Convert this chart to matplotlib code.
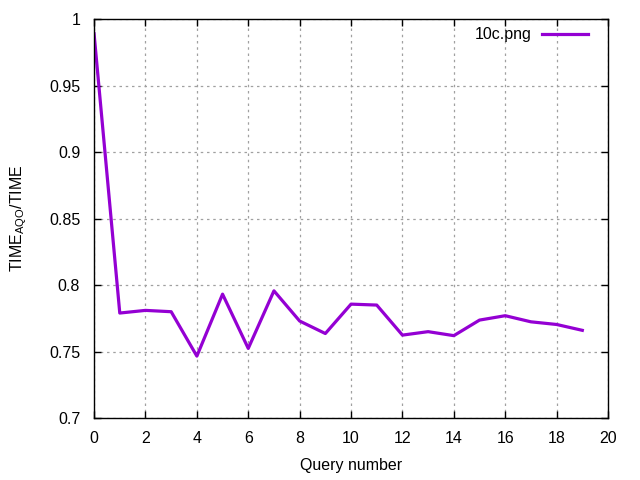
import matplotlib
matplotlib.use("Agg")
import matplotlib.pyplot as plt
from matplotlib.ticker import FuncFormatter

plt.rcParams['font.family'] = ['Liberation Sans', 'DejaVu Sans']
plt.rcParams['mathtext.default'] = 'regular'

# Data
query = list(range(20))
ratio = [0.989, 0.779, 0.781, 0.780, 0.7466, 0.7932, 0.7524, 0.7957, 0.773, 0.7636,
         0.7857, 0.785, 0.7624, 0.765, 0.762, 0.7737, 0.777, 0.7724, 0.7704, 0.766]
xticks = list(range(0, 21, 2))
yticks = [0.7, 0.75, 0.8, 0.85, 0.9, 0.95, 1.0]

fig = plt.figure(figsize=(6.4, 4.8), dpi=100)
ax = fig.add_axes([0.147, 0.129, 0.803, 0.831])

ax.plot(query, ratio, color='#9400d3', linewidth=2.3, label='10c.png')

ax.set_xlim(0, 20)
ax.set_ylim(0.7, 1.0)
ax.set_xticks(xticks)
ax.set_yticks(yticks)
ax.yaxis.set_major_formatter(FuncFormatter(lambda v, p: '%g' % v))

ax.grid(True, color='#a0a0a0', linestyle=(0, (2, 3)), linewidth=0.9)
ax.tick_params(direction='in', top=True, right=True, length=5, width=1,
               labelsize=11.5)
ax.tick_params(axis='x', pad=9)
ax.tick_params(axis='y', pad=10)
for s in ax.spines.values():
    s.set_linewidth(1)

ax.set_xlabel('Query number', fontsize=11.5, labelpad=9)
ax.set_ylabel('TIME$_{AQO}$/TIME', fontsize=11.5, labelpad=14)

ax.legend(loc='upper right', frameon=False, markerfirst=False, fontsize=11.5,
          handlelength=2.9, handletextpad=0.65, borderaxespad=0.1,
          bbox_to_anchor=(0.977, 1.0))

fig.savefig('out.png', dpi=100)
